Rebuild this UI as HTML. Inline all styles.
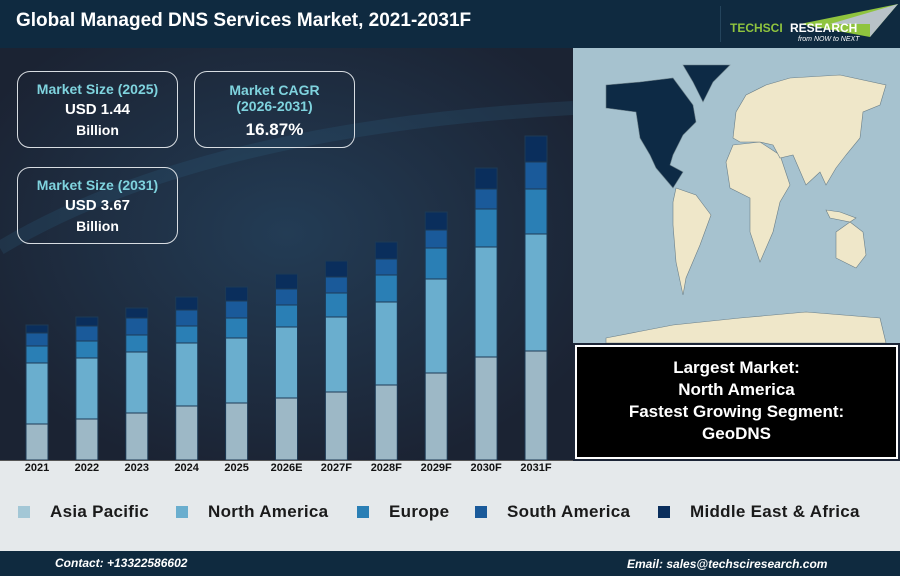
<!DOCTYPE html>
<html><head><meta charset="utf-8"><style>
body{margin:0;width:900px;height:576px;overflow:hidden;font-family:"Liberation Sans",sans-serif;background:#1c2536;position:relative}
.abs{position:absolute}
.box{position:absolute;border:1.5px solid #d8dde2;border-radius:13px;text-align:center;font-weight:bold;color:#fff;box-sizing:border-box}
.lab{color:#7fd3de;font-size:14px}
.leg{position:absolute;top:502px;font-size:17px;font-weight:bold;color:#1a1a1a;letter-spacing:.3px}
.leg i{display:inline-block;width:12px;height:12px;margin-right:20px;vertical-align:-1px}
</style></head><body>
<div class="abs" style="left:0;top:0;width:900px;height:48px;background:#0f2a40"></div>
<div class="abs" style="left:16px;top:10px;color:#fff;font-size:19px;font-weight:bold">Global Managed DNS Services Market, 2021-2031F</div>
<div class="abs" style="left:720px;top:6px;width:1px;height:36px;background:#24445c"></div>
<svg class="abs" style="left:730px;top:2px" width="170" height="44">
<polygon points="70,22 168,2 140,35" fill="#8fc43e"/><polygon points="100,22 168,2 140,35 140,22" fill="#b8c2c8"/>
<text x="0" y="30" font-family="Liberation Sans" font-weight="bold" font-size="12" fill="#8fc43e">TECHSCI</text>
<text x="60" y="30" font-family="Liberation Sans" font-weight="bold" font-size="12" fill="#fff">RESEARCH</text>
<text x="68" y="39" font-family="Liberation Sans" font-style="italic" font-size="7" fill="#fff">from NOW to NEXT</text>
</svg>
<svg class="abs" style="left:0;top:48px" width="573" height="412">
<defs><radialGradient id="g" cx="0.5" cy="0.45" r="0.6"><stop offset="0" stop-color="#233c55"/><stop offset="1" stop-color="#1b2333"/></radialGradient></defs>
<rect width="573" height="412" fill="url(#g)"/>
<path d="M0,200 Q200,80 573,60" stroke="#2d5a7a" stroke-width="14" fill="none" opacity="0.25"/>
</svg>
<svg class="abs" style="left:0;top:0" width="573" height="462">
<g stroke="#1d3a55" stroke-width="1">
<g id="bars"></g>
</g>
<line x1="0" y1="460.5" x2="573" y2="460.5" stroke="#555" />
</svg>
<div class="box" style="left:17px;top:71px;width:161px;height:77px;padding-top:9px"><div class="lab">Market Size (2025)</div><div style="font-size:15px;margin-top:4px">USD 1.44</div><div style="font-size:14px;margin-top:4px">Billion</div></div>
<div class="box" style="left:194px;top:71px;width:161px;height:77px;padding-top:10px"><div class="lab">Market CAGR<br>(2026-2031)</div><div style="font-size:17px;margin-top:6px">16.87%</div></div>
<div class="box" style="left:17px;top:167px;width:161px;height:77px;padding-top:9px"><div class="lab">Market Size (2031)</div><div style="font-size:15px;margin-top:4px">USD 3.67</div><div style="font-size:14px;margin-top:4px">Billion</div></div>
<svg class="abs" style="left:573px;top:48px" width="327" height="295" viewBox="573 48 327 295">
<rect x="573" y="48" width="327" height="295" fill="#a6c2cf"/>
<g stroke="#6b7f88" stroke-width="0.6" fill="#efe7c9">
<polygon points="606,85 640,82 673,78 693,105 696,122 683,135 673,155 670,165 683,172 673,188 656,168 650,155 640,138 636,112 606,108" fill="#0d2a45"/>
<polygon points="683,65 730,65 713,82 703,102 693,82" fill="#0d2a45"/>
<polygon points="676,188 696,195 711,215 700,245 686,278 683,295 676,262 673,225 673,202"/>
<polygon points="733,145 760,142 780,155 790,185 780,202 773,232 760,262 750,232 750,198 730,188 726,162"/>
<polygon points="733,138 736,112 746,95 766,85 790,78 840,75 886,85 880,105 863,112 860,138 846,155 836,168 826,185 820,172 806,185 793,155 780,158 773,145 760,142 740,142"/>
<polygon points="836,232 850,222 863,232 866,255 856,268 836,258"/>
<polygon points="826,210 840,212 856,218 850,222 830,218"/>
<polygon points="606,338 673,325 740,318 806,312 880,318 886,343 606,343"/>
</g>
</svg>
<div class="abs" style="left:575px;top:345px;width:323px;height:114px;background:#000;border:2px solid #fff;box-sizing:border-box;color:#fff;font-weight:bold;font-size:17px;text-align:center;line-height:22px;padding-top:10px">Largest Market:<br>North America<br>Fastest Growing Segment:<br>GeoDNS</div>
<div class="abs" style="left:0;top:461px;width:900px;height:90px;background:#e5e9eb"></div>
<div class="abs" id="xl" style="left:0;top:461px;width:573px;height:16px;font-size:11px;font-weight:bold;color:#111"></div>
<div class="leg" style="left:18px"><i style="background:#a3c7d6"></i>Asia Pacific</div>
<div class="leg" style="left:176px"><i style="background:#6aaece"></i>North America</div>
<div class="leg" style="left:357px"><i style="background:#2a7fb5"></i>Europe</div>
<div class="leg" style="left:475px"><i style="background:#1a5a9a"></i>South America</div>
<div class="leg" style="left:658px"><i style="background:#0a2e5c"></i>Middle East &amp; Africa</div>
<div class="abs" style="left:0;top:551px;width:900px;height:25px;background:#0f2a3f"></div>
<div class="abs" style="left:55px;top:556px;color:#fff;font-size:12px;font-weight:bold;font-style:italic">Contact: +13322586602</div>
<div class="abs" style="left:627px;top:557px;color:#fff;font-size:12px;font-weight:bold;font-style:italic">Email: sales@techsciresearch.com</div>
<script>
var d=[["2021",325,333,346,363,424],["2022",317,326,341,358,419],["2023",308,318,335,352,413],["2024",297,310,326,343,406],["2025",287,301,318,338,403],["2026E",274,289,305,327,398],["2027F",261,277,293,317,392],["2028F",242,259,275,302,385],["2029F",212,230,248,279,373],["2030F",168,189,209,247,357],["2031F",136,162,189,234,351]];
var c=["#0a2e5c","#1a5a9a","#2a7fb5","#6aaece","#9db8c6"],s="",l="";
d.forEach(function(r,i){var x=26+i*49.9;var ys=r.slice(1).concat([460]);
for(var k=0;k<5;k++)s+='<rect x="'+x+'" y="'+ys[k]+'" width="22" height="'+(ys[k+1]-ys[k])+'" fill="'+c[k]+'"/>';
l+='<span style="position:absolute;left:'+(x-14)+'px;width:50px;text-align:center;top:1px">'+r[0]+'</span>';});
document.getElementById("bars").innerHTML=s;document.getElementById("xl").innerHTML=l;
</script>
</body></html>
